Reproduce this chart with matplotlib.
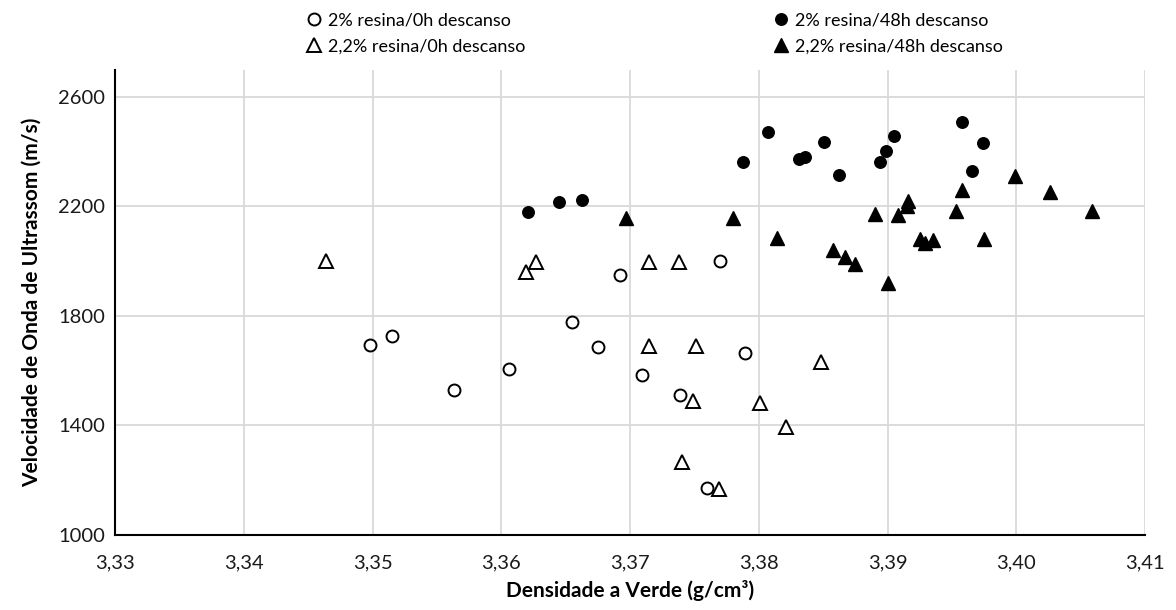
import matplotlib
matplotlib.use("Agg")
import matplotlib.pyplot as plt
from matplotlib.ticker import FuncFormatter, MultipleLocator, FixedLocator

plt.rcParams['font.family'] = ['Lato', 'DejaVu Sans']

# 2% resina / 0h descanso (open circles)
x_2_0h = [3.3498, 3.3515, 3.3563, 3.3606, 3.3655, 3.3675, 3.3692, 3.3709, 3.3739, 3.3760, 3.3770, 3.3789]
y_2_0h = [1694, 1728, 1528, 1608, 1779, 1688, 1950, 1585, 1511, 1173, 2000, 1664]

# 2,2% resina / 0h descanso (open triangles)
x_22_0h = [3.3464, 3.3619, 3.3627, 3.3715, 3.3738, 3.3715, 3.3751, 3.3749, 3.3801, 3.3821, 3.3740, 3.3769, 3.3848]
y_22_0h = [2000, 1962, 1998, 1996, 1996, 1690, 1690, 1490, 1481, 1396, 1268, 1167, 1632]

# 2% resina / 48h descanso (filled circles)
x_2_48h = [3.3621, 3.3645, 3.3663, 3.3788, 3.3807, 3.3831, 3.3836, 3.3851, 3.3862, 3.3894, 3.3899, 3.3905, 3.3958, 3.3966, 3.3974]
y_2_48h = [2180, 2215, 2222, 2364, 2473, 2373, 2382, 2437, 2314, 2364, 2403, 2457, 2507, 2330, 2433]

# 2,2% resina / 48h descanso (filled triangles)
x_22_48h = [3.3697, 3.3780, 3.3814, 3.3858, 3.3867, 3.3875, 3.3890, 3.3900, 3.3908, 3.3916, 3.3915,
            3.3925, 3.3929, 3.3935, 3.3953, 3.3958, 3.3975, 3.3999, 3.4026, 3.4059]
y_22_48h = [2158, 2158, 2085, 2042, 2014, 1991, 2172, 1921, 2170, 2220, 2203,
            2081, 2068, 2078, 2182, 2261, 2081, 2312, 2254, 2184]

y_ticks = [1000, 1400, 1800, 2200, 2600]

labels = ["2% resina/0h descanso", "2,2% resina/0h descanso",
          "2% resina/48h descanso", "2,2% resina/48h descanso"]

fig = plt.figure(figsize=(11.76, 6.10), dpi=100)
ax = fig.add_axes([115/1176, 75/610, 1030/1176, 465.4/610])

h1, = ax.plot(x_2_0h, y_2_0h, 'o', ms=8.6, mfc='white', mec='black', mew=1.4, ls='none', zorder=3)
h2, = ax.plot(x_22_0h, y_22_0h, '^', ms=10.6, mfc='white', mec='black', mew=1.4, ls='none', zorder=3)
h3, = ax.plot(x_2_48h, y_2_48h, 'o', ms=8.3, mfc='black', mec='black', mew=1.0, ls='none', zorder=3)
h4, = ax.plot(x_22_48h, y_22_48h, '^', ms=9.8, mfc='black', mec='black', mew=1.0, ls='none', zorder=3)

ax.set_xlim(3.33, 3.41)
ax.set_ylim(1000, 2700)
ax.xaxis.set_major_locator(MultipleLocator(0.01))
ax.yaxis.set_major_locator(FixedLocator(y_ticks))
ax.xaxis.set_major_formatter(FuncFormatter(lambda v, p: f"{v:.2f}".replace('.', ',')))
ax.yaxis.set_major_formatter(FuncFormatter(lambda v, p: f"{v:.0f}"))

ax.grid(True, color='#d9d9d9', lw=1.3, zorder=0)
ax.set_axisbelow(True)
for s in ['top', 'right']:
    ax.spines[s].set_visible(False)
for s in ['left', 'bottom']:
    ax.spines[s].set_color('black')
    ax.spines[s].set_linewidth(1.5)
ax.tick_params(length=0, labelsize=14.5, colors='#1a1a1a')
ax.tick_params(axis='x', pad=14)
ax.tick_params(axis='y', pad=7)

ax.set_xlabel("Densidade a Verde (g/cm³)", fontsize=15, fontweight='bold', labelpad=6)
ax.set_ylabel("Velocidade de Onda de Ultrassom (m/s)", fontsize=15, fontweight='bold', labelpad=12)

fig.legend([h1, h2, h3, h4], labels, loc='upper left', bbox_to_anchor=(296/1176, 0.997),
           ncol=2, frameon=False, fontsize=13, handlelength=0.8, handletextpad=0.35,
           columnspacing=13.8, labelspacing=0.55, borderaxespad=0.2)

fig.savefig("out.png", dpi=100, facecolor='white')
